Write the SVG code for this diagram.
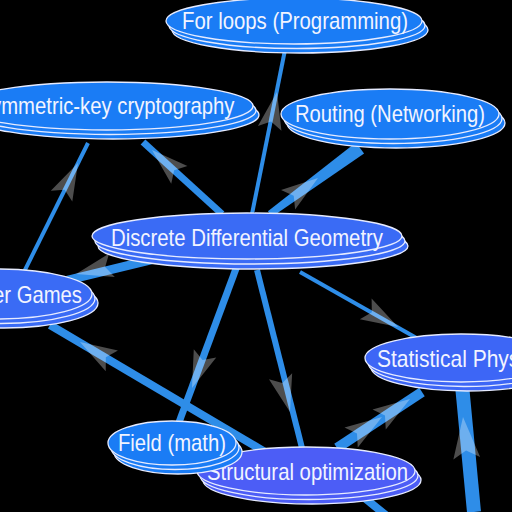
<svg xmlns="http://www.w3.org/2000/svg" xmlns:xlink="http://www.w3.org/1999/xlink" width="512" height="512" viewBox="0 0 512 512">
<style>
.e{stroke:#2e8de8;fill:none;stroke-linecap:butt}
.ep{fill:#2e8de8}
.ah{fill:#ffffff;fill-opacity:0.3}
.n ellipse{stroke:#e6ebff;stroke-width:1.3}
.n text{font-family:"Liberation Sans",Arial,sans-serif;font-size:24px;fill:#f2f4ff;text-anchor:middle}
.c1 ellipse{fill:#1a7cf5}
.c2 ellipse{fill:#3a6bf5}
.c3 ellipse{fill:#3d66f6}
.c4 ellipse{fill:#4c5df6}
</style>
<defs>
<path id="arr" d="M0,0 L-37,-12 L-30,0 L-37,12 Z"/>
</defs>
<rect x="0" y="0" width="512" height="512" fill="#000"/>
<g id="connectors">
<line class="e" x1="252" y1="214" x2="286" y2="45" stroke-width="4"/>
<line class="e" x1="222" y1="214" x2="143" y2="142" stroke-width="7"/>
<polygon class="ep" points="267.9,211.2 355.9,142.4 364.1,153.6 272.1,216.8"/>
<line class="e" x1="20" y1="280" x2="88" y2="143" stroke-width="4"/>
<line class="e" x1="200" y1="248" x2="60" y2="282" stroke-width="9"/>
<line class="e" x1="265" y1="452" x2="50" y2="325" stroke-width="8"/>
<line class="e" x1="237" y1="266" x2="178" y2="425" stroke-width="7"/>
<line class="e" x1="257" y1="270" x2="302" y2="448" stroke-width="6"/>
<line class="e" x1="300" y1="272" x2="420" y2="340" stroke-width="4"/>
<line class="e" x1="337" y1="448" x2="422" y2="392" stroke-width="10"/>
<line class="e" x1="462" y1="385" x2="474" y2="512" stroke-width="14"/>
<line class="e" x1="340" y1="478" x2="398" y2="525" stroke-width="8"/>
<use xlink:href="#arr" class="ah" transform="translate(277,92) rotate(-78.6)"/>
<use xlink:href="#arr" class="ah" transform="translate(152,150) rotate(-137.6)"/>
<use xlink:href="#arr" class="ah" transform="translate(318,178) rotate(-36)"/>
<use xlink:href="#arr" class="ah" transform="translate(78,163) rotate(-63.6)"/>
<use xlink:href="#arr" class="ah" transform="translate(76,274) rotate(166.3)"/>
<use xlink:href="#arr" class="ah" transform="translate(140,263) rotate(166.3)"/>
<use xlink:href="#arr" class="ah" transform="translate(80,342) rotate(-149.4)"/>
<use xlink:href="#arr" class="ah" transform="translate(192,388) rotate(110.6)"/>
<use xlink:href="#arr" class="ah" transform="translate(290,412) rotate(75.2)"/>
<use xlink:href="#arr" class="ah" transform="translate(398,327) rotate(29.3)"/>
<use xlink:href="#arr" class="ah" transform="translate(382,417) rotate(-33.5)"/>
<use xlink:href="#arr" class="ah" transform="translate(410,399) rotate(-33.5)"/>
<use xlink:href="#arr" class="ah" transform="translate(463,417) rotate(-95.2) scale(1.12)"/>
</g>
<g id="node-forloops" class="n c1">
<ellipse cx="300" cy="30" rx="128" ry="23"/>
<ellipse cx="297" cy="25.5" rx="128" ry="23"/>
<ellipse cx="294" cy="21" rx="128" ry="23"/>
<text x="295" y="28.5" textLength="226" lengthAdjust="spacingAndGlyphs">For loops (Programming)</text>
</g>
<g id="node-symmetric" class="n c1">
<ellipse cx="113" cy="115" rx="146" ry="24"/>
<ellipse cx="110" cy="110.5" rx="146" ry="24"/>
<ellipse cx="107" cy="106" rx="146" ry="24"/>
<text x="106" y="113.5" textLength="257" lengthAdjust="spacingAndGlyphs">Symmetric-key cryptography</text>
</g>
<g id="node-routing" class="n c1">
<ellipse cx="396" cy="123" rx="109" ry="25"/>
<ellipse cx="393" cy="118.5" rx="109" ry="25"/>
<ellipse cx="390" cy="114" rx="109" ry="25"/>
<text x="390" y="122" textLength="190" lengthAdjust="spacingAndGlyphs">Routing (Networking)</text>
</g>
<g id="node-discrete" class="n c2">
<ellipse cx="253" cy="246" rx="155" ry="23"/>
<ellipse cx="250" cy="241" rx="155" ry="23"/>
<ellipse cx="247" cy="236" rx="155" ry="23"/>
<text x="247" y="245.5" textLength="272" lengthAdjust="spacingAndGlyphs">Discrete Differential Geometry</text>
</g>
<g id="node-games" class="n c2">
<ellipse cx="4" cy="303" rx="94" ry="25"/>
<ellipse cx="1" cy="298.5" rx="94" ry="25"/>
<ellipse cx="-2" cy="294" rx="94" ry="25"/>
<text x="2" y="303" textLength="160" lengthAdjust="spacingAndGlyphs">Computer Games</text>
</g>
<g id="node-statistical" class="n c3">
<ellipse cx="467" cy="367" rx="96" ry="24"/>
<ellipse cx="464" cy="362.5" rx="96" ry="24"/>
<ellipse cx="461" cy="358" rx="96" ry="24"/>
<text x="461" y="367" textLength="168" lengthAdjust="spacingAndGlyphs">Statistical Physics</text>
</g>
<g id="node-structural" class="n c4">
<ellipse cx="312" cy="480" rx="109" ry="24"/>
<ellipse cx="309" cy="475.5" rx="109" ry="24"/>
<ellipse cx="306" cy="471" rx="109" ry="24"/>
<text x="307.5" y="479.5" textLength="201" lengthAdjust="spacingAndGlyphs">Structural optimization</text>
</g>
<g id="node-field" class="n c1">
<ellipse cx="178" cy="452" rx="64" ry="22"/>
<ellipse cx="175" cy="447.5" rx="64" ry="22"/>
<ellipse cx="172" cy="443" rx="64" ry="22"/>
<text x="172" y="450.5" textLength="108" lengthAdjust="spacingAndGlyphs">Field (math)</text>
</g>
</svg>
